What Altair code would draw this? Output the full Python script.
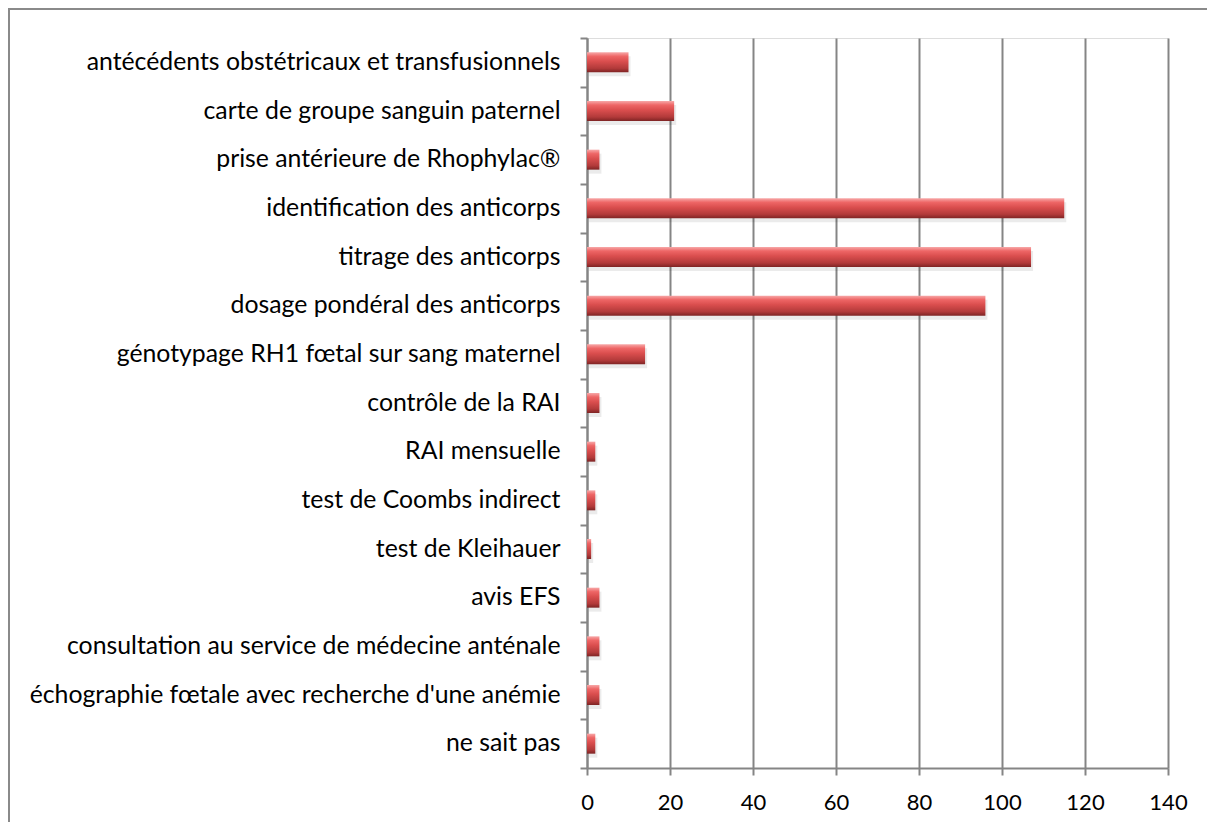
import altair as alt
import pandas as pd

categories = [
    "antécédents obstétricaux et transfusionnels",
    "carte de groupe sanguin paternel",
    "prise antérieure de Rhophylac®",
    "identification des anticorps",
    "titrage des anticorps",
    "dosage pondéral des anticorps",
    "génotypage RH1 fœtal sur sang maternel",
    "contrôle de la RAI",
    "RAI mensuelle",
    "test de Coombs indirect",
    "test de Kleihauer",
    "avis EFS",
    "consultation au service de médecine anténale",
    "échographie fœtale avec recherche d'une anémie",
    "ne sait pas",
]
values = [10, 21, 3, 115, 107, 96, 14, 3, 2, 2, 1, 3, 3, 3, 2]
x_ticks = [0, 20, 40, 60, 80, 100, 120, 140]

df = pd.DataFrame({"cat": categories, "val": values})

FONT = "Lato"
GRID = "#858585"

grad = alt.Gradient(
    gradient="linear", x1=0, y1=0, x2=0, y2=1,
    stops=[
        alt.GradientStop(color="#f7a8a8", offset=0.0),
        alt.GradientStop(color="#ee6666", offset=0.2),
        alt.GradientStop(color="#da4e4e", offset=0.45),
        alt.GradientStop(color="#b23a3a", offset=0.8),
        alt.GradientStop(color="#7e2424", offset=1.0),
    ],
)

y_enc = alt.Y(
    "cat:N", sort=categories, title=None,
    scale=alt.Scale(paddingInner=0, paddingOuter=0),
    axis=alt.Axis(
        tickBand="extent", tickSize=7, tickColor=GRID, tickWidth=2,
        domainColor=GRID, domainWidth=2, labelPadding=20,
        labelFont=FONT, labelFontSize=24.8, labelColor="#000000",
        labelLimit=0, grid=False,
    ),
)
x_enc = alt.X(
    "val:Q", title=None,
    scale=alt.Scale(domain=[0, 140], nice=False),
    axis=alt.Axis(
        values=x_ticks, grid=True, gridColor=GRID, gridWidth=2,
        tickSize=7, tickColor=GRID, tickWidth=2,
        domainColor=GRID, domainWidth=2, labelPadding=17,
        labelFlush=False, labelOverlap=False,
        labelFont=FONT, labelFontSize=22, labelColor="#000000",
    ),
)

base = alt.Chart(df)
shadow = base.mark_bar(color="#000000", opacity=0.08, size=20, xOffset=2, yOffset=4).encode(x=x_enc, y=y_enc)
bars = base.mark_bar(color=grad, size=20).encode(x=x_enc, y=y_enc)

frame = alt.Chart(pd.DataFrame({"a": [0]})).mark_rect(
    fillOpacity=0, stroke="#8a8a8a", strokeWidth=2
).encode(
    x=alt.value(-578), x2=alt.value(900), y=alt.value(-29), y2=alt.value(1000)
)

chart = alt.layer(frame, shadow, bars).properties(
    width=581, height=730,
    autosize=alt.AutoSizeParams(type="none"),
    padding={"left": 579, "top": 30, "right": 39, "bottom": 54},
).configure_view(stroke=None).configure(background="white")

chart.save("out.html", embed_options={"renderer": "svg", "actions": False})
